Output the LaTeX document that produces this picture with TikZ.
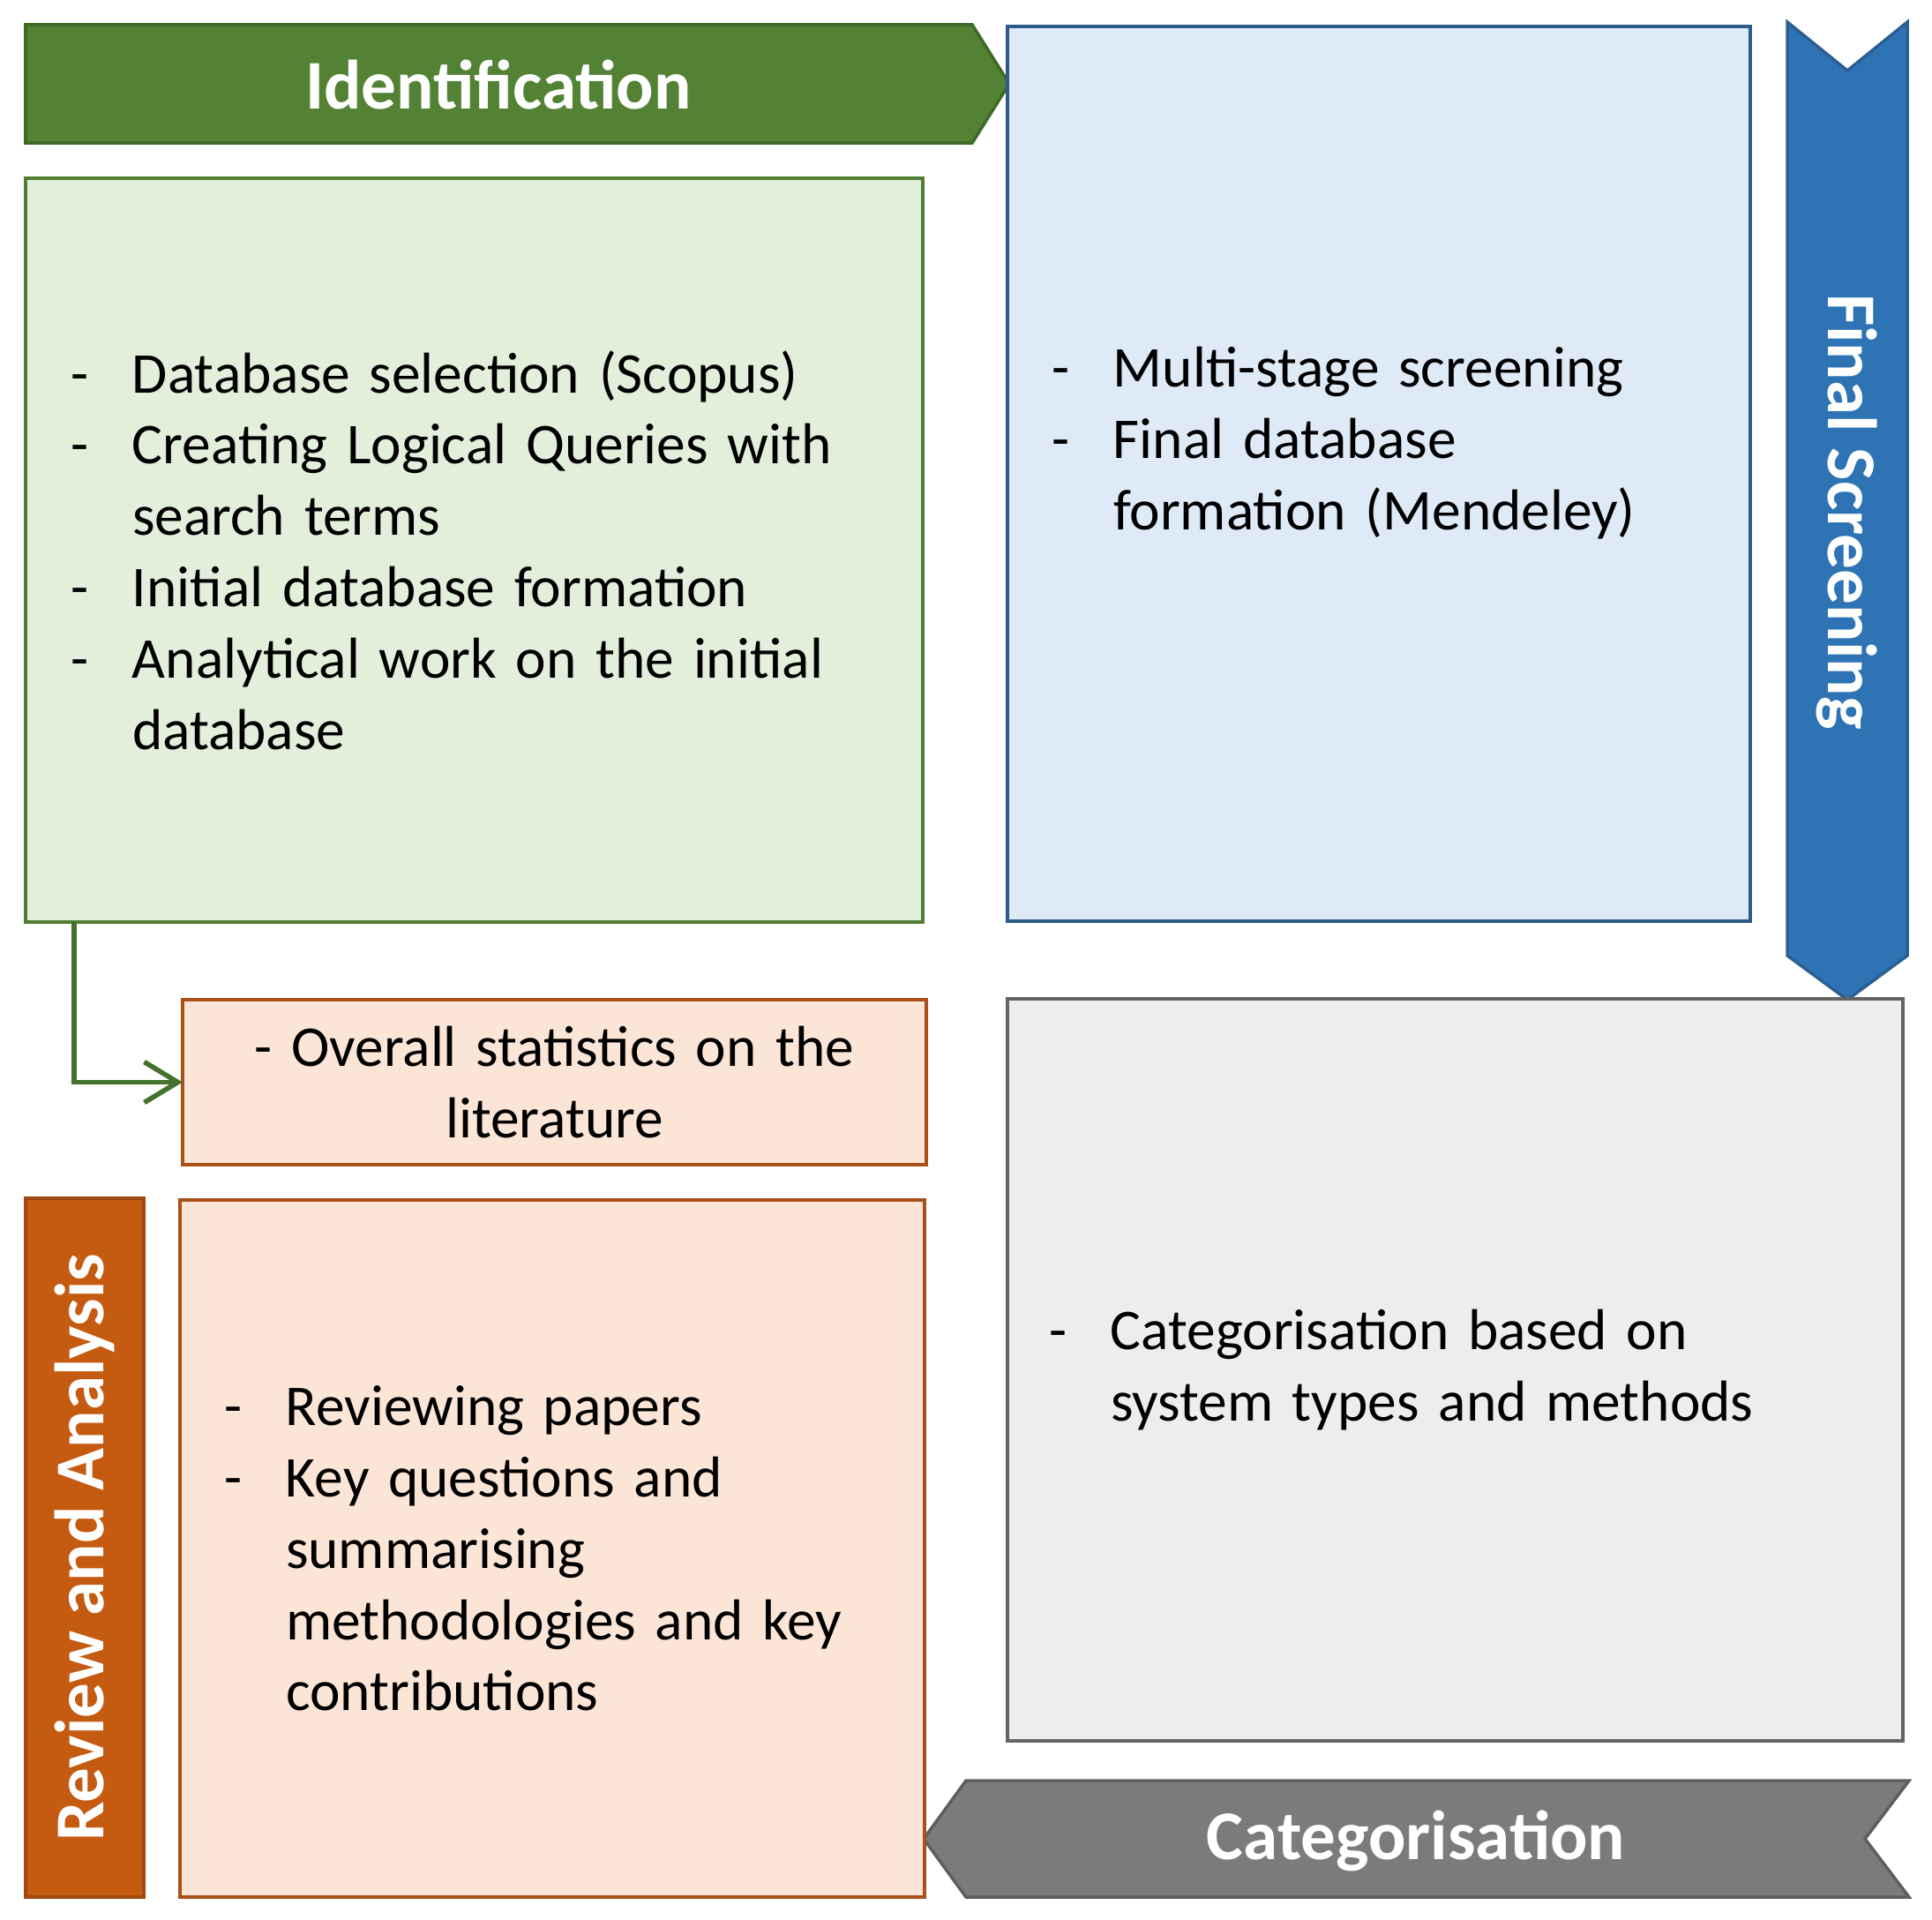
\documentclass[tikz,border=0pt]{standalone}
\usepackage{fontspec}
\setmainfont{Carlito}
\usetikzlibrary{arrows.meta}

\definecolor{idgreen}{HTML}{548235}
\definecolor{idgreenline}{HTML}{3E6A26}
\definecolor{searchfill}{HTML}{E2EFDA}
\definecolor{searchline}{HTML}{507E32}
\definecolor{screenfill}{HTML}{DEEAF6}
\definecolor{screenline}{HTML}{2E5A8A}
\definecolor{finalblue}{HTML}{2E74B5}
\definecolor{finalline}{HTML}{2B5F92}
\definecolor{catfill}{HTML}{EDEDED}
\definecolor{catline}{HTML}{646464}
\definecolor{catgray}{HTML}{7B7B7B}
\definecolor{catgrayline}{HTML}{5E5E5E}
\definecolor{revorange}{HTML}{C55A11}
\definecolor{revorangeline}{HTML}{9E4A12}
\definecolor{revfill}{HTML}{FBE5D6}
\definecolor{revline}{HTML}{A9501B}
\definecolor{linkgreen}{HTML}{44722C}

\newcommand\bodyfont{\fontsize{18.6}{23}\selectfont}
\newcommand\headfont{\fontsize{22.5}{27}\selectfont\bfseries}
\newcommand\dsh{\makebox[7mm][l]{-}}
\newcommand\cont{\hspace*{7mm}}

\tikzset{
  box/.style={draw, line width=1pt, anchor=north west, outer sep=0pt,
    inner xsep=5mm, inner ysep=0pt, align=left, font=\bodyfont},
  tag/.style={line width=1pt},
  head/.style={text=white, font=\headfont, inner sep=0pt},
  link/.style={draw=linkgreen, line width=1.6pt,
    -{Straight Barb[length=3.8mm,width=4.6mm,line width=1.6pt]}}
}

\begin{document}
\begin{tikzpicture}[x=1mm,y=-1mm]
  \useasboundingbox (0,0) rectangle (219,217.5);

  % Identification
  \filldraw[tag, fill=idgreen, draw=idgreenline] (2.9,2.8) -- (110.2,2.8) -- (114.4,9.5) -- (110.2,16.2) -- (2.9,16.2) -- cycle;
  \node[head] (ident) at (56.5,9.6) {Identification};

  \node[box, fill=searchfill, draw=searchline, inner xsep=5.1mm, text width=91.5mm, minimum height=84.3mm] (search) at (2.9,20.2)
    {\dsh Database selection (Scopus)\\
     \dsh Creating Logical Queries with\\
     \cont search terms\\
     \dsh Initial database formation\\
     \dsh Analytical work on the initial\\
     \cont database};

  % Final Screening
  \node[box, fill=screenfill, draw=screenline, text width=74.2mm, minimum height=101.4mm] (screen) at (114.2,3.0)
    {\dsh Multi-stage screening\\
     \dsh Final database\\
     \cont formation (Mendeley)\\
     ~};
  \filldraw[tag, fill=finalblue, draw=finalline] (202.6,2.5) -- (209.4,8.0) -- (216.2,2.5) -- (216.2,108.3) -- (209.4,113.3) -- (202.6,108.3) -- cycle;
  \node[head, rotate=-90] (final) at (209.4,58.0) {Final Screening};

  % Categorisation
  \node[box, fill=catfill, draw=catline, inner xsep=4.7mm, text width=92.1mm, minimum height=84.1mm] (cat) at (114.2,113.2)
    {\dsh Categorisation based on\\
     \cont system types and methods};
  \filldraw[tag, fill=catgray, draw=catgrayline] (109.5,201.8) -- (216.4,201.8) -- (211.4,208.4) -- (216.4,215.0) -- (109.5,215.0) -- (104.7,208.4) -- cycle;
  \node[head] (categ) at (160.5,208.6) {Categorisation};

  % Review and Analysis
  \node[box, fill=revfill, draw=revline, inner xsep=2mm, text width=80.3mm, minimum height=18.7mm, align=center] (stats) at (20.7,113.3)
    {- Overall statistics on the\\ literature};
  \node[box, fill=revfill, draw=revline, text width=74.4mm, minimum height=79.0mm] (review) at (20.4,136.0)
    {\dsh Reviewing papers\\
     \dsh Key questions and\\
     \cont summarising\\
     \cont methodologies and key\\
     \cont contributions};
  \filldraw[tag, fill=revorange, draw=revorangeline] (2.9,135.8) rectangle (16.3,215.0);
  \node[head, rotate=90] (revtag) at (9.6,175.4) {Review and Analysis};

  \draw[link] ([xshift=5.5mm]search.south west) |- (stats.west);
\end{tikzpicture}
\end{document}
